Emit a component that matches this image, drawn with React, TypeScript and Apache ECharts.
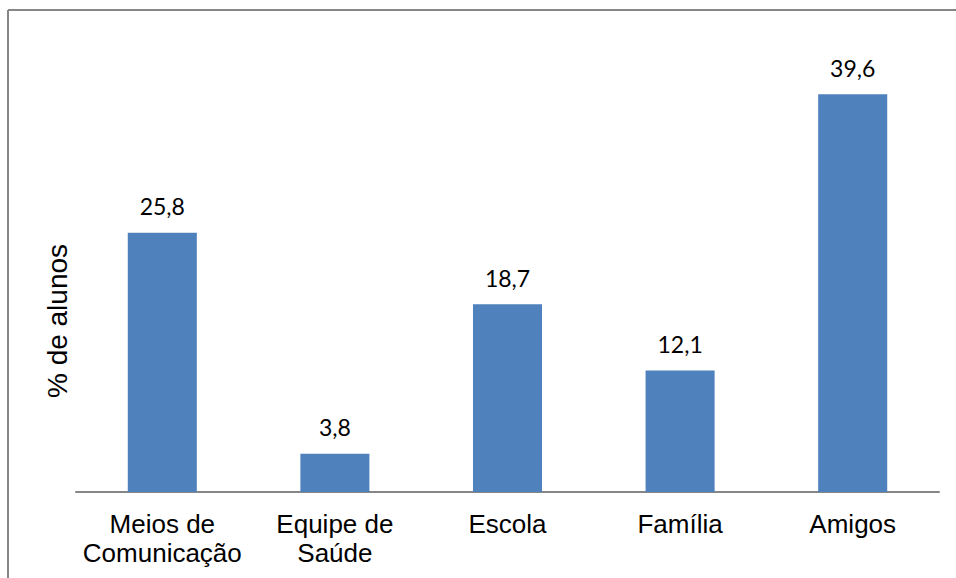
import React, { useEffect, useRef } from "react";
import * as echarts from "echarts";

const categories = ["Meios de\nComunicação", "Equipe de\nSaúde", "Escola", "Família", "Amigos"];
const values = [25.8, 3.8, 18.7, 12.1, 39.6];
const yAxisTitle = "% de alunos";

export default function App() {
  const ref = useRef<HTMLDivElement>(null);
  useEffect(() => {
    if (!ref.current) return;
    const chart = echarts.init(ref.current, null, { renderer: "svg" });
    chart.setOption({
      animation: false,
      backgroundColor: "#ffffff",
      grid: { left: 76, right: 17, top: 40, bottom: 86 },
      graphic: [
        { type: "line", shape: { x1: 8, y1: 10, x2: 956, y2: 10 }, style: { stroke: "#868686", lineWidth: 2 } },
        { type: "line", shape: { x1: 8, y1: 10, x2: 8, y2: 578 }, style: { stroke: "#868686", lineWidth: 2 } },
        {
          type: "text",
          x: 57,
          y: 321,
          rotation: Math.PI / 2,
          style: {
            text: yAxisTitle,
            font: '28px "Liberation Sans", Arial, sans-serif',
            fill: "#000",
            align: "center",
            verticalAlign: "middle",
          },
        },
      ],
      xAxis: {
        type: "category",
        data: categories,
        axisLine: { lineStyle: { color: "#868686", width: 2 } },
        axisTick: { show: false },
        axisLabel: {
          color: "#000",
          fontFamily: '"Liberation Sans", Arial, sans-serif',
          fontSize: 26,
          lineHeight: 29,
          margin: 17,
          interval: 0,
        },
      },
      yAxis: {
        type: "value",
        min: 0,
        max: 45,
        show: false,
        splitLine: { show: false },
      },
      series: [
        {
          type: "bar",
          data: values,
          barWidth: "40%",
          itemStyle: { color: "#4f81bd" },
          label: {
            show: true,
            position: "top",
            distance: 15,
            color: "#000",
            fontFamily: "Lato, 'Open Sans', sans-serif",
            fontSize: 23,
            formatter: (p: any) => String(p.value).replace(".", ","),
          },
        },
      ],
    });
    return () => chart.dispose();
  }, []);
  return <div ref={ref} style={{ position: "fixed", left: 0, top: 0, width: 956, height: 578 }} />;
}
